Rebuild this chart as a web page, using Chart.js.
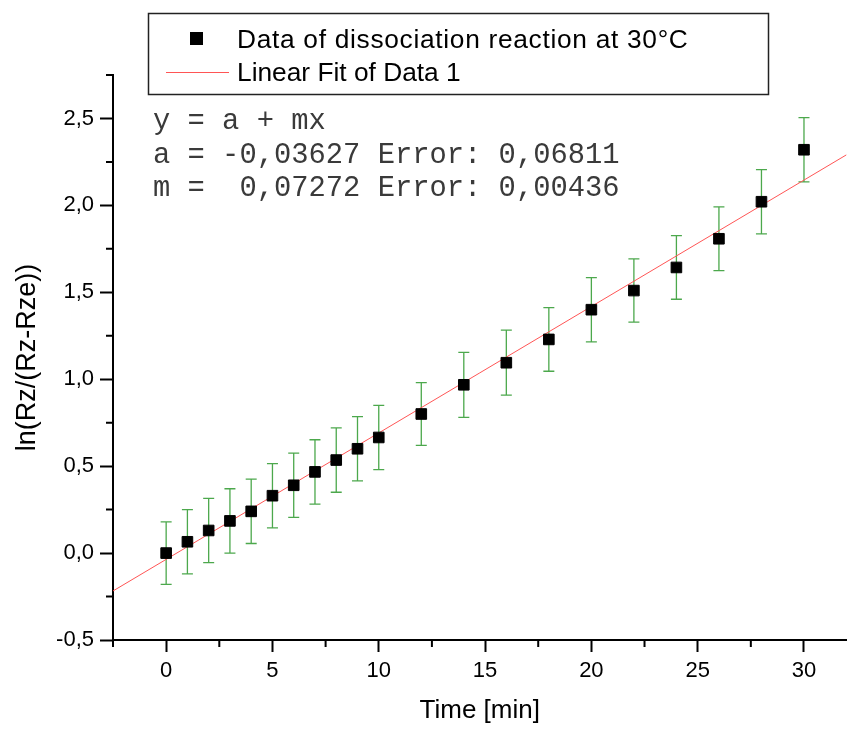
<!DOCTYPE html>
<html>
<head>
<meta charset="utf-8">
<script src="https://cdn.jsdelivr.net/npm/chart.js@4"></script>
<style>
  body { margin: 0; background: #fff; }
  canvas { display: block; }
</style>
</head>
<body>
<canvas id="chart" width="855" height="729"></canvas>
<script>
// DATA
const timeMin = [0, 1, 2, 3, 4, 5, 6, 7, 8, 9, 10, 12, 14, 16, 18, 20, 22, 24, 26, 28, 30];
const lnRatio = [0.00, 0.065, 0.13, 0.185, 0.24, 0.33, 0.39, 0.467, 0.535, 0.60, 0.665,
                 0.80, 0.968, 1.095, 1.229, 1.40, 1.51, 1.643, 1.808, 2.021, 2.32];
const lnError = [0.18, 0.185, 0.185, 0.185, 0.185, 0.185, 0.185, 0.185, 0.185, 0.185, 0.185,
                 0.18, 0.187, 0.187, 0.183, 0.185, 0.182, 0.183, 0.183, 0.185, 0.185];

// LINEAR FIT ENDPOINTS (ends of the red line)
const fitX = [-2.5, 32];
const fitY = [-0.218, 2.291];

// LEGEND + FIT RESULT TEXT
const dataLabel = "Data of dissociation reaction at 30°C";
const fitLabel = "Linear Fit of Data 1";
const fitText = [
  "y = a + mx",
  "a = -0,03627 Error: 0,06811",
  "m =  0,07272 Error: 0,00436"
];

const SANS = "'Liberation Sans', Arial, sans-serif";
const MONO = "'Liberation Mono', 'Courier New', monospace";
const ERR_COLOR = "rgb(76,168,76)";

const isMajorX = v => Math.abs(v % 5) < 1e-9;
const isMajorY = v => Math.abs(v * 2 - Math.round(v * 2)) < 1e-9;

// ERROR BARS, drawn under the squares
const errorBars = {
  id: "errorBars",
  beforeDatasetsDraw(chart) {
    const {ctx, scales: {x, y}} = chart;
    ctx.save();
    ctx.strokeStyle = ERR_COLOR;
    ctx.lineWidth = 1.3;
    timeMin.forEach((t, i) => {
      const px = x.getPixelForValue(t);
      const top = y.getPixelForValue(lnRatio[i] + lnError[i]);
      const bot = y.getPixelForValue(lnRatio[i] - lnError[i]);
      ctx.beginPath();
      ctx.moveTo(px, top); ctx.lineTo(px, bot);
      ctx.moveTo(px - 5.5, top); ctx.lineTo(px + 5.5, top);
      ctx.moveTo(px - 5.5, bot); ctx.lineTo(px + 5.5, bot);
      ctx.stroke();
    });
    ctx.restore();
  }
};

// SHORT MINOR TICKS
const minorTicks = {
  id: "minorTicks",
  afterDraw(chart) {
    const {ctx, scales: {x, y}, chartArea} = chart;
    ctx.save();
    ctx.strokeStyle = "#000";
    ctx.lineWidth = 2;
    ctx.beginPath();
    x.ticks.forEach(tk => {
      if (isMajorX(tk.value)) return;
      const px = x.getPixelForValue(tk.value);
      ctx.moveTo(px, chartArea.bottom); ctx.lineTo(px, chartArea.bottom + 7);
    });
    y.ticks.forEach(tk => {
      if (isMajorY(tk.value)) return;
      const py = y.getPixelForValue(tk.value);
      ctx.moveTo(chartArea.left, py); ctx.lineTo(chartArea.left - 7, py);
    });
    ctx.stroke();
    ctx.restore();
  }
};

// BOXED LEGEND AND FIT TEXT
const boxLegend = {
  id: "boxLegend",
  afterDraw(chart) {
    const ctx = chart.ctx;
    const ds = chart.data.datasets;
    ctx.save();
    ctx.fillStyle = "#fff";
    ctx.fillRect(148, 13, 620, 81);
    ctx.strokeStyle = "#222";
    ctx.lineWidth = 1.5;
    ctx.strokeRect(148.5, 13.5, 620, 81);

    ctx.fillStyle = ds[0].backgroundColor;
    ctx.fillRect(190, 32, 13, 13);
    ctx.strokeStyle = ds[1].borderColor;
    ctx.lineWidth = 1;
    ctx.beginPath();
    ctx.moveTo(166, 72.5); ctx.lineTo(229, 72.5);
    ctx.stroke();

    ctx.fillStyle = "#000";
    ctx.font = "26.3px " + SANS;
    ctx.textBaseline = "alphabetic";
    ctx.letterSpacing = "0.7px";
    ctx.fillText(ds[0].label, 237, 47.5);
    ctx.letterSpacing = "0px";
    ctx.fillText(ds[1].label, 237, 81);

    ctx.fillStyle = "#3a3a3a";
    ctx.font = "28.8px " + MONO;
    fitText.forEach((line, i) => {
      ctx.fillText(line, 153, 129 + i * 33.5);
    });
    ctx.restore();
  }
};

new Chart(document.getElementById("chart"), {
  type: "scatter",
  data: {
    datasets: [{
      label: dataLabel,
      data: timeMin.map((t, i) => ({x: t, y: lnRatio[i]})),
      pointStyle: "rect",
      pointRadius: 7.5,
      pointHoverRadius: 7.5,
      backgroundColor: "#000",
      borderColor: "#000",
      borderWidth: 1,
      order: 0
    }, {
      type: "line",
      label: fitLabel,
      data: fitX.map((t, i) => ({x: t, y: fitY[i]})),
      borderColor: "rgb(255,85,85)",
      borderWidth: 1,
      pointRadius: 0,
      fill: false,
      order: 1
    }]
  },
  options: {
    responsive: false,
    animation: false,
    devicePixelRatio: 1,
    layout: {padding: {top: 75, right: 2, left: 0, bottom: 0}},
    plugins: {
      legend: {display: false},
      tooltip: {enabled: false}
    },
    scales: {
      x: {
        type: "linear",
        min: -2.5,
        max: 32,
        afterBuildTicks: axis => {
          const t = [];
          for (let i = -1; i <= 12; i++) t.push({value: i * 2.5});
          axis.ticks = t;
        },
        afterFit: axis => { axis.height = 89; },
        border: {color: "#000", width: 2},
        grid: {
          drawOnChartArea: false,
          tickLength: 12,
          tickWidth: 2,
          tickColor: c => (c.tick && isMajorX(c.tick.value)) ? "#000" : "rgba(0,0,0,0)"
        },
        ticks: {
          autoSkip: false,
          maxRotation: 0,
          padding: 6,
          color: "#000",
          font: {family: SANS, size: 22},
          callback: v => isMajorX(v) ? String(v) : ""
        },
        title: {
          display: true,
          text: "Time [min]",
          color: "#000",
          font: {family: SANS, size: 26},
          padding: {top: 0, bottom: 3}
        }
      },
      y: {
        min: -0.5,
        max: 2.75,
        afterBuildTicks: axis => {
          const t = [];
          for (let i = -2; i <= 11; i++) t.push({value: i * 0.25});
          axis.ticks = t;
        },
        afterFit: axis => { axis.width = 113; },
        border: {color: "#000", width: 2},
        grid: {
          drawOnChartArea: false,
          tickLength: 13,
          tickWidth: 2,
          tickColor: c => (c.tick && isMajorY(c.tick.value)) ? "#000" : "rgba(0,0,0,0)"
        },
        ticks: {
          autoSkip: false,
          padding: 6,
          color: "#000",
          font: {family: SANS, size: 22},
          callback: v => isMajorY(v) ? v.toFixed(1).replace(".", ",") : ""
        },
        title: {
          display: true,
          text: "ln(Rz/(Rz-Rze))",
          color: "#000",
          font: {family: SANS, size: 27},
          padding: {top: 11, bottom: 0}
        }
      }
    }
  },
  plugins: [errorBars, minorTicks, boxLegend]
});
</script>
</body>
</html>
